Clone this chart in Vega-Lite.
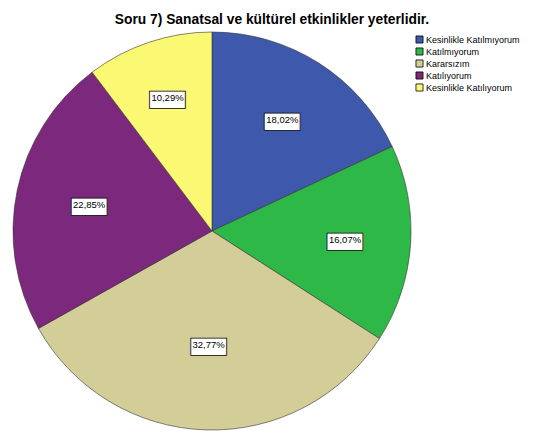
{
  "$schema": "https://vega.github.io/schema/vega-lite/v6.json",
  "width": 398,
  "height": 398,
  "autosize": {"type": "none"},
  "padding": {"left": 13, "top": 32, "right": 133, "bottom": 7},
  "background": "white",
  "title": {
    "text": "Soru 7) Sanatsal ve kültürel etkinlikler yeterlidir.",
    "font": "Liberation Sans",
    "fontSize": 13.8,
    "fontWeight": "bold",
    "color": "black",
    "anchor": "middle",
    "dx": 60,
    "offset": 4
  },
  "data": {
    "values": [
      {"idx": 1, "category": "Kesinlikle Katılmıyorum", "pct": 18.02, "label": "18,02%"},
      {"idx": 2, "category": "Katılmıyorum", "pct": 16.07, "label": "16,07%"},
      {"idx": 3, "category": "Kararsızım", "pct": 32.77, "label": "32,77%"},
      {"idx": 4, "category": "Katılıyorum", "pct": 22.85, "label": "22,85%"},
      {"idx": 5, "category": "Kesinlikle Katılıyorum", "pct": 10.29, "label": "10,29%"}
    ]
  },
  "encoding": {
    "theta": {"field": "pct", "type": "quantitative", "stack": true},
    "order": {"field": "idx", "type": "ordinal"}
  },
  "layer": [
    {
      "mark": {"type": "arc", "stroke": "#333333", "strokeWidth": 0.6},
      "encoding": {
        "color": {
          "field": "category",
          "type": "nominal",
          "sort": ["Kesinlikle Katılmıyorum", "Katılmıyorum", "Kararsızım", "Katılıyorum", "Kesinlikle Katılıyorum"],
          "scale": {
            "domain": ["Kesinlikle Katılmıyorum", "Katılmıyorum", "Kararsızım", "Katılıyorum", "Kesinlikle Katılıyorum"],
            "range": ["#3E58AC", "#2EB848", "#D3CE97", "#7C287D", "#FBF873"]
          },
          "legend": {
            "title": null,
            "orient": "none",
            "legendX": 402,
            "legendY": 3,
            "symbolType": "square",
            "symbolSize": 50,
            "symbolStrokeColor": "black",
            "symbolStrokeWidth": 0.8,
            "symbolOpacity": 1,
            "labelFont": "Liberation Sans",
            "labelFontSize": 9,
            "labelColor": "black",
            "labelOffset": 2,
            "rowPadding": 1
          }
        }
      }
    },
    {
      "layer": [
        {
          "mark": {"type": "text", "font": "DejaVu Sans", "fontSize": 47, "fill": "white", "stroke": "black", "strokeWidth": 0.8, "baseline": "middle", "align": "center"},
          "encoding": {"text": {"value": "▬"}}
        },
        {
          "mark": {"type": "text", "font": "Liberation Sans", "fontSize": 9.5, "fill": "black", "baseline": "middle", "align": "center"},
          "encoding": {"text": {"field": "label"}}
        }
      ],
      "encoding": {
        "radius": {
          "field": "pct",
          "type": "quantitative",
          "scale": {"type": "linear", "zero": false, "domain": [10.29, 32.77], "range": [140, 114]}
        }
      }
    }
  ],
  "config": {"view": {"stroke": null}}
}
